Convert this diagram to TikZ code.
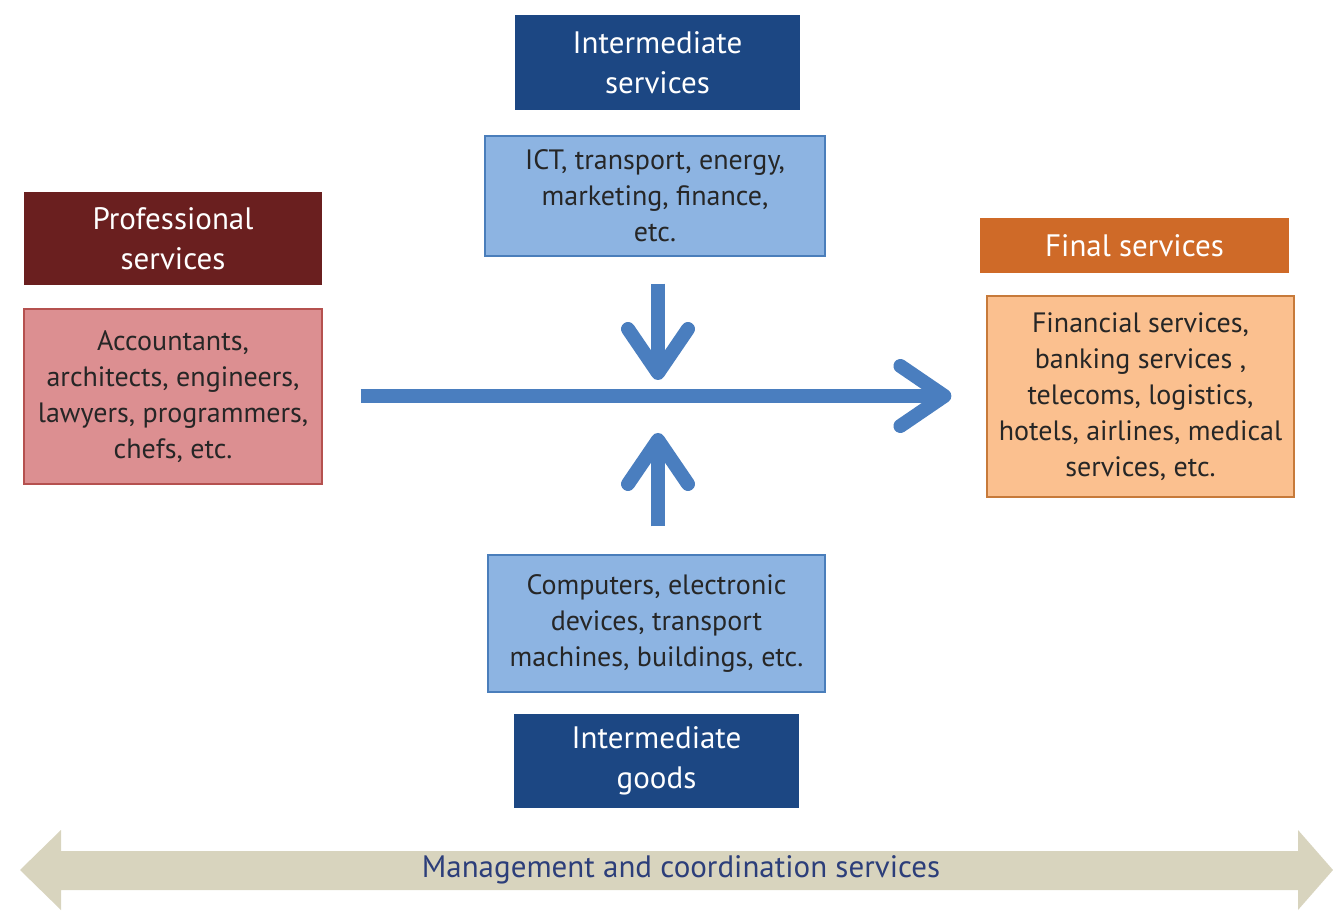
\documentclass[tikz,border=0pt]{standalone}
\usepackage{fontspec}
\setmainfont{PT Sans}
\usetikzlibrary{arrows.meta}

\definecolor{profdark}{HTML}{6A1F1F}
\definecolor{proffill}{HTML}{DC8F91}
\definecolor{profline}{HTML}{B5514F}
\definecolor{navy}{HTML}{1C4783}
\definecolor{skyfill}{HTML}{8DB4E2}
\definecolor{skyline}{HTML}{4A7EBB}
\definecolor{rust}{HTML}{CF6A28}
\definecolor{peachfill}{HTML}{FBC08F}
\definecolor{peachline}{HTML}{C77A3A}
\definecolor{flowblue}{HTML}{4A7EBF}
\definecolor{mgmtfill}{HTML}{D8D4BE}
\definecolor{mgmttext}{HTML}{2C3E7A}

\begin{document}
\begin{tikzpicture}[x=0.5pt, y=-0.5pt,
		font=\fontsize{14}{18}\selectfont,
		every node/.style = {shape=rectangle, align=center, inner sep=2pt},
		head/.style={text=white, font=\fontsize{15.5}{20}\selectfont},
		body/.style={draw, line width=0.6pt, text=black!85},
		flow/.style={draw=flowblue, line width=7pt,
			-{Straight Barb[length=22pt, width=30pt, line cap=round, line join=round]}},
		]
		\useasboundingbox (0,0) rectangle (1333,913);

		% left column
		\node[head, fill=profdark, minimum width=149pt, minimum height=46.5pt] (profhead) at (173,238.5) {Professional\\services};
		\node[body, fill=proffill, draw=profline, minimum width=149pt, minimum height=87.5pt] (prof) at (173,396.5)
			{Accountants,\\architects, engineers,\\lawyers, programmers,\\chefs, etc.};

		% middle column
		\node[head, fill=navy, minimum width=142.5pt, minimum height=47.5pt] (servhead) at (657.5,62.5) {Intermediate\\services};
		\node[body, fill=skyfill, draw=skyline, minimum width=170pt, minimum height=60pt] (ict) at (655,196)
			{ICT, transport, energy,\\marketing, finance,\\etc.};
		\node[body, fill=skyfill, draw=skyline, minimum width=168.5pt, minimum height=68.5pt] (comp) at (656.5,623.5)
			{Computers, electronic\\devices, transport\\machines, buildings, etc.};
		\node[head, fill=navy, minimum width=142.5pt, minimum height=47pt] (goodshead) at (656.5,761) {Intermediate\\goods};

		% right column
		\node[head, fill=rust, minimum width=154.5pt, minimum height=27.5pt] (finalhead) at (1134.5,245.5) {Final services};
		\node[body, fill=peachfill, draw=peachline, minimum width=153.5pt, minimum height=100.5pt] (final) at (1140.5,396.5)
			{Financial services,\\banking services ,\\telecoms, logistics,\\hotels, airlines, medical\\services, etc.};

		% arrows
		\coordinate (hub) at (658,396);
		\draw[flow] ([xshift=19pt]prof.east |- hub) -- ([xshift=-17.5pt]final.west |- hub);
		\draw[flow] ([yshift=-13.5pt]ict.south -| hub) -- ([yshift=8pt]hub);
		\draw[flow] ([yshift=14pt]comp.north -| hub) -- ([yshift=-18.5pt]hub);

		% management band
		\fill[mgmtfill] (20,870) -- (61,830) -- (61,851) -- (1298,851) -- (1298,830)
			-- (1333,870) -- (1298,910) -- (1298,890) -- (61,890) -- (61,910) -- cycle;
		\node[text=mgmttext, font=\fontsize{15.5}{18}\selectfont] (mgmt) at (681,870) {Management and coordination services};
\end{tikzpicture}
\end{document}
